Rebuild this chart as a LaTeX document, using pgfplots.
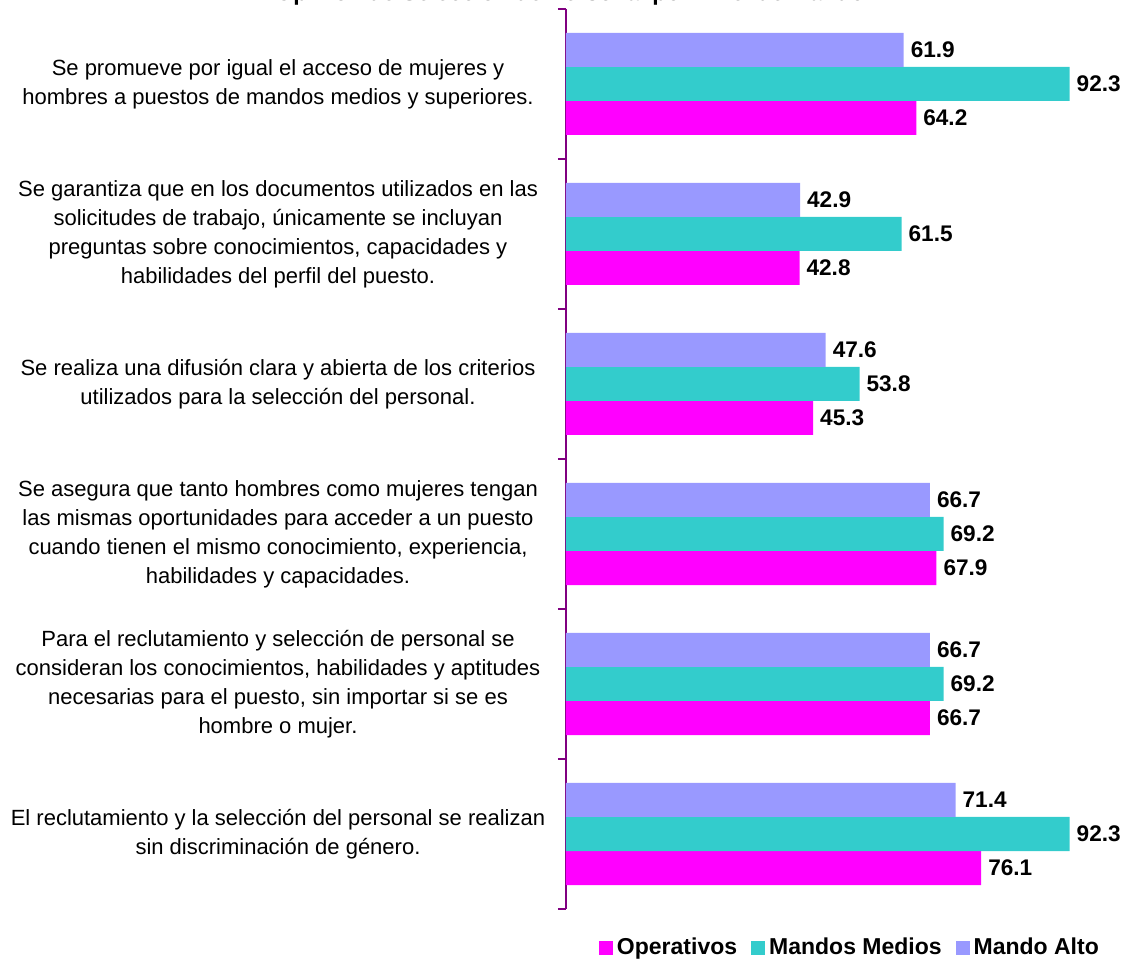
\documentclass[border=0pt]{standalone}
\usepackage{fontspec}
\setmainfont{Liberation Sans}
\usepackage{pgfplots}
\pgfplotsset{compat=1.18}
\definecolor{operativos}{HTML}{FF00FF}
\definecolor{medios}{HTML}{33CCCC}
\definecolor{alto}{HTML}{9999FF}
\definecolor{axiscol}{HTML}{800080}

\begin{document}
\begin{tikzpicture}
\begin{axis}[
    at={(0pt,0pt)}, anchor=south west,
    xbar,
    scale only axis,
    width=281pt, height=450pt,
    xmin=0, xmax=103,
    ymin=-0.5, ymax=5.5,
    bar width=0.2267,
    axis x line=none,
    axis y line=left,
    y axis line style={-, draw=axiscol, line width=1pt},
    xtick=\empty,
    ytick={0,1,2,3,4,5},
    yticklabels={
        {El reclutamiento y la selección del personal se realizan\\sin discriminación de género.},
        {Para el reclutamiento y selección de personal se\\consideran los conocimientos, habilidades y aptitudes\\necesarias para el puesto, sin importar si se es\\hombre o mujer.},
        {Se asegura que tanto hombres como mujeres tengan\\las mismas oportunidades para acceder a un puesto\\cuando tienen el mismo conocimiento, experiencia,\\habilidades y capacidades.},
        {Se realiza una difusión clara y abierta de los criterios\\utilizados para la selección del personal.},
        {Se garantiza que en los documentos utilizados en las\\solicitudes de trabajo, únicamente se incluyan\\preguntas sobre conocimientos, capacidades y\\habilidades del perfil del puesto.},
        {Se promueve por igual el acceso de mujeres y\\hombres a puestos de mandos medios y superiores.}
    },
    yticklabel style={font=\fontsize{11}{14.5}\selectfont, align=center, anchor=center, xshift=-144pt},
    minor ytick={-0.5,0.5,1.5,2.5,3.5,4.5,5.5},
    major tick length=0pt,
    minor tick length=4pt,
    tick align=outside,
    ytick style={draw=axiscol, line width=1pt},
    nodes near coords={\pgfmathprintnumber[fixed,fixed zerofill,precision=1]{\pgfplotspointmeta}},
    every node near coord/.append style={font=\bfseries\fontsize{11.3}{13}\selectfont, /pgf/number format/assume math mode=true},
    legend style={draw=none, legend columns=-1, at={(0.507,-0.0433)}, anchor=center,
        font=\bfseries\fontsize{11.5}{13}\selectfont,
        /tikz/every even column/.append style={column sep=5pt}},
    legend image code/.code={\fill[#1] (0pt,-3.5pt) rectangle (7pt,3.5pt);},
]
\addplot[fill=operativos, draw=none, bar shift=-0.2267] coordinates {
    (76.1,0) (66.7,1) (67.9,2) (45.3,3) (42.8,4) (64.2,5)
};
\addplot[fill=medios, draw=none, bar shift=0] coordinates {
    (92.3,0) (69.2,1) (69.2,2) (53.8,3) (61.5,4) (92.3,5)
};
\addplot[fill=alto, draw=none, bar shift=0.2267] coordinates {
    (71.4,0) (66.7,1) (66.7,2) (47.6,3) (42.9,4) (61.9,5)
};
\legend{Operativos, Mandos Medios, Mando Alto}
\end{axis}
\node[anchor=base, font=\bfseries\fontsize{11.5}{13}\selectfont] at (2pt,454.25pt)
    {Opinión de Selección de Personal por Nivel de Mando};
\pgfresetboundingbox
\useasboundingbox (-283pt,-26.5pt) rectangle (281pt,454.5pt);
\end{tikzpicture}
\end{document}
